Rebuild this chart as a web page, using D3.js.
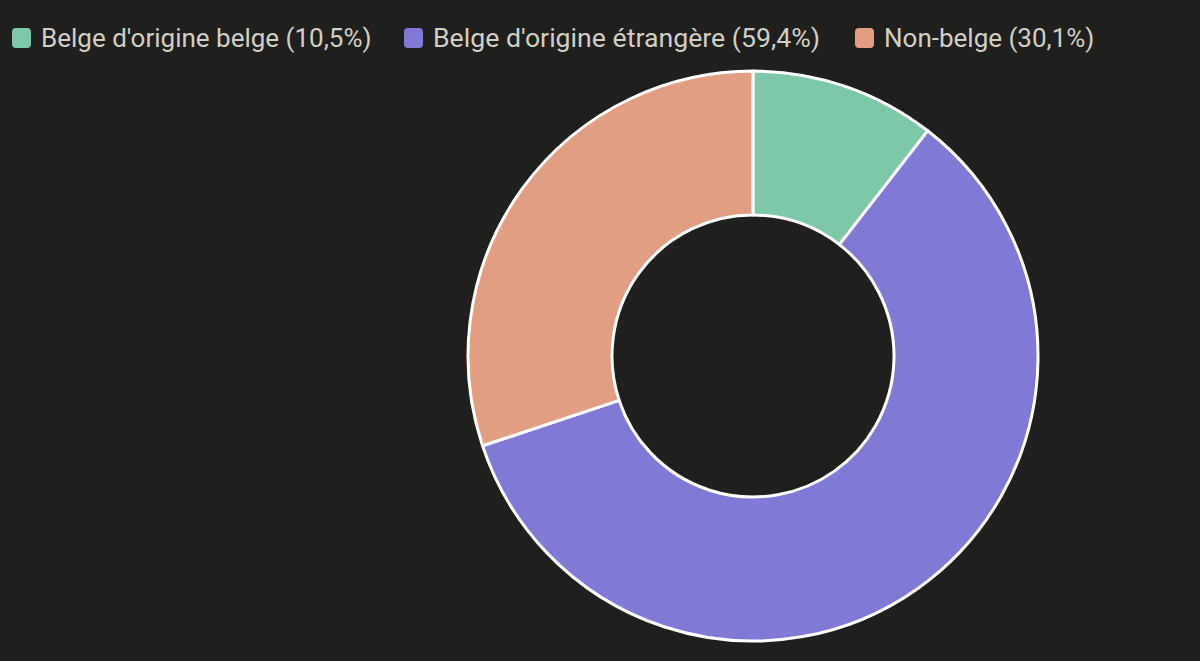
<!DOCTYPE html>
<html><head><meta charset="utf-8">
<script src="https://cdn.jsdelivr.net/npm/d3@7"></script>
<style>html,body{margin:0;padding:0;background:#1f1f1e;}svg{display:block;}</style>
</head><body>
<svg id="c" width="1200" height="661"></svg>
<script>
const categories = ["Belge d'origine belge", "Belge d'origine étrangère", "Non-belge"];
const values = [10.5, 59.4, 30.1];
const labels = ["Belge d'origine belge (10,5%)", "Belge d'origine étrangère (59,4%)", "Non-belge (30,1%)"];
const colors = ["#7dc8a9", "#8079d6", "#e29e83"];

const svg = d3.select("#c");
const W = 1200, H = 661;
svg.append("rect").attr("width", W).attr("height", H).attr("fill", "#1f1f1e");

const cx = 753, cy = 356, outerR = 285, innerR = 141;
const pie = d3.pie().sort(null).value(d => d)(values);
const arc = d3.arc().innerRadius(innerR).outerRadius(outerR);
const g = svg.append("g").attr("transform", `translate(${cx},${cy})`);
g.selectAll("path").data(pie).join("path")
  .attr("d", arc)
  .attr("fill", (d, i) => colors[i])
  .attr("stroke", "#ffffff")
  .attr("stroke-width", 3)
  .attr("stroke-linejoin", "round");

// legend
const starts = [12, 404, 855];
const textEnds = [371, 820, 1097];
const lg = svg.append("g");
labels.forEach((t, i) => {
  lg.append("rect").attr("x", starts[i]).attr("y", 28).attr("width", 19).attr("height", 20)
    .attr("rx", 4).attr("fill", colors[i]);
  const tx = starts[i] + 29;
  const el = lg.append("text").attr("x", tx).attr("y", 47)
    .attr("font-family", "Roboto, sans-serif").attr("font-size", 26)
    .attr("fill", "#d2cec6").text(t);
  const target = textEnds[i] - tx;
  const w = el.node().getComputedTextLength();
  if (Math.abs(w - target) > 3) el.attr("textLength", target).attr("lengthAdjust", "spacingAndGlyphs");
});
</script>
</body></html>
